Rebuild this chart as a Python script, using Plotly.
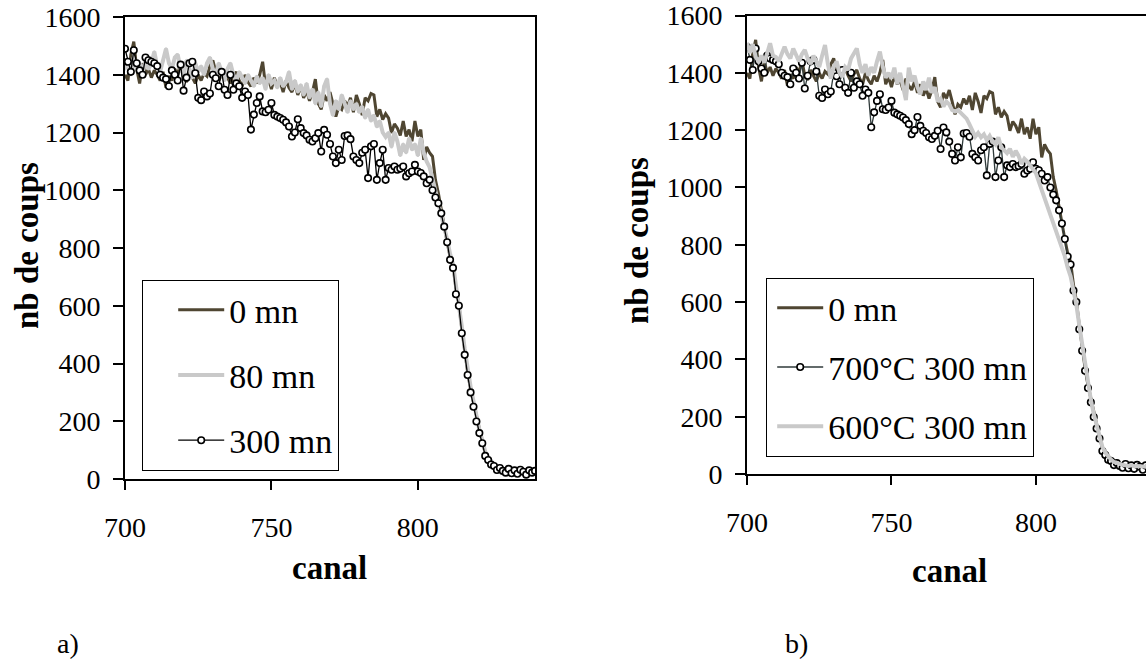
import plotly.graph_objects as go

# ---------------- data ----------------
channels = list(range(700, 841))

counts_0mn = [
    1400, 1380, 1470, 1515, 1420, 1370, 1440, 1400, 1420, 1390,
    1415, 1400, 1380, 1410, 1355, 1395, 1380, 1420, 1400, 1445,
    1390, 1375, 1410, 1390, 1370, 1400, 1380, 1405, 1395, 1430,
    1450, 1410, 1380, 1400, 1415, 1390, 1370, 1395, 1410, 1380,
    1360, 1400, 1375, 1360, 1390, 1370, 1400, 1445, 1360, 1385,
    1350, 1390, 1360, 1375, 1340, 1380, 1355, 1340, 1370, 1330,
    1360, 1320, 1345, 1310, 1340, 1385, 1300, 1280, 1330, 1310,
    1340, 1300, 1255, 1290, 1280, 1310, 1290, 1320, 1270, 1330,
    1300, 1260, 1320, 1310, 1335, 1330, 1255, 1280, 1245, 1265,
    1250, 1198, 1230, 1215, 1190, 1240, 1186, 1210, 1170, 1240,
    1186, 1210, 1105, 1150, 1130, 1117, 1036, 990, 930, 880,
    820, 770, 740, 660, 605, 520, 440, 370, 310, 265,
    210, 165, 130, 90, 70, 55, 48, 40, 35, 32,
    30, 28, 30, 25, 28, 26, 24, 26, 25, 24, 25,
]

counts_80mn = [
    1420, 1450, 1400, 1460, 1420, 1440, 1410, 1450, 1420, 1440,
    1480, 1430, 1410, 1450, 1490, 1440, 1420, 1460, 1470, 1420,
    1400, 1450, 1420, 1390, 1440, 1410, 1430, 1400, 1440, 1460,
    1420, 1400, 1440, 1410, 1380, 1420, 1440, 1400, 1380, 1410,
    1390, 1370, 1400, 1380, 1360, 1395, 1370, 1390, 1350, 1400,
    1370, 1380, 1355, 1390, 1360, 1375, 1410, 1350, 1380, 1340,
    1365, 1330, 1370, 1320, 1350, 1300, 1340, 1290, 1360, 1385,
    1300, 1260, 1310, 1280, 1330, 1300, 1270, 1310, 1280, 1300,
    1270, 1290, 1250, 1280, 1240, 1260, 1220, 1240, 1200, 1185,
    1200, 1150, 1200, 1170, 1120, 1160, 1130, 1180, 1140, 1160,
    1120, 1180, 1130, 1100, 1080, 1040, 1000, 960, 920, 880,
    830, 780, 745, 670, 610, 530, 450, 380, 320, 270,
    215, 170, 135, 95, 75, 60, 50, 42, 38, 35,
    32, 30, 28, 30, 26, 28, 25, 27, 24, 26, 25,
]

counts_300mn = [
    1490, 1445, 1410, 1485, 1440, 1415, 1400, 1460, 1450, 1445,
    1440, 1430, 1400, 1390, 1385, 1360, 1415, 1400, 1380, 1435,
    1345, 1390, 1440, 1445, 1405, 1320, 1312, 1342, 1325, 1335,
    1400, 1388, 1360, 1410, 1348, 1330, 1400, 1348, 1370, 1360,
    1320, 1342, 1330, 1210, 1262, 1302, 1325, 1273, 1270, 1279,
    1302, 1261, 1255, 1250, 1244, 1235, 1221, 1186, 1200, 1246,
    1215, 1198, 1190, 1175, 1169, 1180, 1198, 1134, 1209, 1192,
    1160, 1117, 1094, 1140, 1105, 1188, 1190, 1177, 1117, 1105,
    1094, 1130, 1140, 1042, 1152, 1160, 1036, 1094, 1140, 1036,
    1077, 1071, 1082, 1071, 1075, 1082, 1048, 1059, 1065, 1088,
    1065, 1060, 1048, 1024, 1036, 1000, 975, 955, 920, 874,
    820, 759, 731, 640, 600, 505, 430, 360, 300, 250,
    199, 159, 124, 80, 66, 50, 45, 31, 38, 28,
    22, 35, 20, 30, 18, 32, 25, 15, 30, 22, 28,
]

counts_600C_300mn = [
    1505, 1470, 1500, 1455, 1440, 1460, 1435, 1470, 1503, 1460,
    1455, 1440, 1470, 1491, 1465, 1450, 1485, 1460, 1440, 1465,
    1480, 1450, 1430, 1460, 1440, 1420, 1460, 1497, 1430, 1380,
    1420, 1440, 1400, 1386, 1420, 1410, 1450, 1470, 1485, 1430,
    1400, 1430, 1390, 1420, 1400, 1440, 1474, 1420, 1383, 1400,
    1380, 1418, 1360, 1400, 1350, 1305, 1418, 1370, 1390, 1350,
    1325, 1370, 1340, 1383, 1330, 1350, 1300, 1310, 1282, 1300,
    1290, 1270, 1265, 1270, 1260, 1250, 1240, 1220, 1200, 1177,
    1190, 1175, 1185, 1165, 1180, 1160, 1150, 1175, 1140, 1130,
    1120, 1135, 1107, 1128, 1110, 1082, 1100, 1090, 1075, 1061,
    1050, 1020, 991, 968, 940, 910, 880, 850, 820, 790,
    760, 720, 690, 640, 590, 520, 450, 380, 320, 260,
    210, 170, 130, 95, 75, 60, 50, 42, 38, 34,
    32, 30, 28, 30, 27, 28, 26, 27, 25, 26, 25,
]

x_ticks = [700, 750, 800]

# ---------------- styling ----------------
W, H = 1146, 664
FONT = "Liberation Serif"
BROWN = "#4f4632"
GRAY = "#c9c9c9"
SLATE = "#2f3a3a"

fig = go.Figure()

# panel a
fig.add_trace(go.Scatter(x=channels, y=counts_0mn, mode="lines", name="0 mn",
                         line=dict(color=BROWN, width=3),
                         xaxis="x", yaxis="y", legend="legend", legendgroup="a0"))
fig.add_trace(go.Scatter(x=channels, y=counts_80mn, mode="lines+markers", name="80 mn",
                         line=dict(color=GRAY, width=4), marker=dict(size=3, color=GRAY),
                         xaxis="x", yaxis="y", legend="legend", legendgroup="a1"))
fig.add_trace(go.Scatter(x=channels, y=counts_300mn, mode="lines+markers", name="300 mn",
                         line=dict(color="black", width=1.3),
                         marker=dict(symbol="circle", size=6.5, color="white",
                                     line=dict(color="black", width=1.6)),
                         xaxis="x", yaxis="y", legend="legend", legendgroup="a2"))

# panel b
fig.add_trace(go.Scatter(x=channels, y=counts_0mn, mode="lines", name="0 mn",
                         line=dict(color=BROWN, width=3),
                         xaxis="x2", yaxis="y2", legend="legend2", legendgroup="b0"))
fig.add_trace(go.Scatter(x=channels, y=counts_300mn, mode="lines+markers", name="700°C 300 mn",
                         line=dict(color=SLATE, width=1.3),
                         marker=dict(symbol="circle", size=6.5, color="white",
                                     line=dict(color="black", width=1.6)),
                         xaxis="x2", yaxis="y2", legend="legend2", legendgroup="b1"))
fig.add_trace(go.Scatter(x=channels, y=counts_600C_300mn, mode="lines", name="600°C 300 mn",
                         line=dict(color=GRAY, width=4),
                         xaxis="x2", yaxis="y2", legend="legend2", legendgroup="b2"))

axis_common = dict(showline=True, linecolor="black", linewidth=2, showgrid=False,
                   zeroline=False, ticks="outside", tickcolor="black", tickwidth=1.5,
                   automargin=False,
                   tickfont=dict(family=FONT, size=28, color="black"))
xcommon = dict(axis_common, tickvals=x_ticks, ticklen=9, ticklabelstandoff=13)
ycommon = dict(axis_common, range=[0, 1600], dtick=200, ticklen=10, ticklabelstandoff=7)

legend_common = dict(xanchor="left", yanchor="top", bgcolor="white", bordercolor="black",
                     borderwidth=1.2, font=dict(family=FONT, size=34, color="black"),
                     itemwidth=46, traceorder="grouped")

def ann(text, x, y, size, bold=False, angle=0):
    return dict(text=text, x=x / W, y=1 - y / H, xref="paper", yref="paper",
                xanchor="center", yanchor="middle", showarrow=False, textangle=angle,
                font=dict(family=FONT, size=size, color="black",
                          weight="bold" if bold else "normal"))

fig.update_layout(
    template="none",
    width=W, height=H,
    margin=dict(l=0, r=0, t=0, b=0),
    paper_bgcolor="white", plot_bgcolor="white",
    hovermode=False,
    xaxis=dict(xcommon, domain=[125 / W, 535 / W], range=[700, 840], mirror=True, anchor="y"),
    yaxis=dict(ycommon, domain=[1 - 479 / H, 1 - 17 / H], mirror=True, anchor="x"),
    xaxis2=dict(xcommon, domain=[747 / W, 1.0], range=[700, 838.1], mirror=True, anchor="y2"),
    yaxis2=dict(ycommon, domain=[1 - 474 / H, 1 - 15.5 / H], mirror=False, anchor="x2"),
    legend=dict(legend_common, x=142 / W, y=1 - 280 / H, tracegroupgap=18, indentation=30),
    legend2=dict(legend_common, x=766 / W, y=1 - 278 / H, tracegroupgap=12, indentation=5),
    annotations=[
        ann("nb de coups", 27, 246, 33, bold=True, angle=-90),
        ann("nb de coups", 637, 241, 33, bold=True, angle=-90),
        ann("canal", 329, 568, 33, bold=True),
        ann("canal", 949, 571, 33, bold=True),
        ann("a)", 68, 643, 28),
        ann("b)", 796, 643, 28),
    ],
)

fig.write_html("out.html",
               config={"displayModeBar": False},
               post_script="document.body.style.margin='0px';document.body.style.overflow='hidden';")
